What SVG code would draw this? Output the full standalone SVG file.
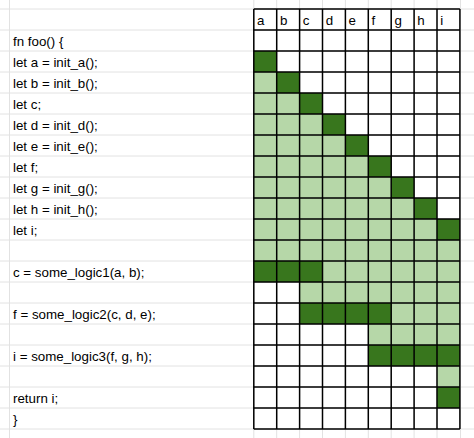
<svg xmlns="http://www.w3.org/2000/svg" width="474" height="438" viewBox="0 0 474 438">
<style>
.t{font-family:"Liberation Sans",Arial,sans-serif;font-size:13.33px;fill:#000}
.d{fill:#38761d}
.l{fill:#b6d7a8}
.g{stroke:#e2e2e2;stroke-width:1;fill:none}
.b{stroke:#000;stroke-width:1.5;fill:none}
</style>
<rect width="474" height="438" fill="#fff"/>
<g id="gridlines-sheet">
<path class="g" d="M0 9H474M0 30H474M0 51H474M0 72H474M0 93H474M0 114H474M0 135H474M0 156H474M0 177H474M0 198H474M0 219H474M0 240H474M0 261H474M0 282H474M0 303H474M0 324H474M0 345H474M0 366H474M0 387H474M0 408H474M0 429H474"/>
<path class="g" d="M9.5 0V438M253.8 0V438M276.7 0V438M299.6 0V438M322.5 0V438M345.4 0V438M368.3 0V438M391.2 0V438M414.1 0V438M437 0V438M460.5 0V438"/>
</g>
<g id="fills">
<rect class="l" x="253.8" y="72" width="22.9" height="21"/>
<rect class="l" x="253.8" y="93" width="45.8" height="21"/>
<rect class="l" x="253.8" y="114" width="68.7" height="21"/>
<rect class="l" x="253.8" y="135" width="91.6" height="21"/>
<rect class="l" x="253.8" y="156" width="114.5" height="21"/>
<rect class="l" x="253.8" y="177" width="137.4" height="21"/>
<rect class="l" x="253.8" y="198" width="160.3" height="21"/>
<rect class="l" x="253.8" y="219" width="183.2" height="21"/>
<rect class="l" x="253.8" y="240" width="206.1" height="21"/>
<rect class="l" x="322.5" y="261" width="137.4" height="21"/>
<rect class="l" x="299.6" y="282" width="160.3" height="21"/>
<rect class="l" x="391.2" y="303" width="68.7" height="21"/>
<rect class="l" x="368.3" y="324" width="91.6" height="21"/>
<rect class="l" x="437" y="366" width="22.9" height="21"/>
<rect class="d" x="253.8" y="51" width="22.9" height="21"/>
<rect class="d" x="276.7" y="72" width="22.9" height="21"/>
<rect class="d" x="299.6" y="93" width="22.9" height="21"/>
<rect class="d" x="322.5" y="114" width="22.9" height="21"/>
<rect class="d" x="345.4" y="135" width="22.9" height="21"/>
<rect class="d" x="368.3" y="156" width="22.9" height="21"/>
<rect class="d" x="391.2" y="177" width="22.9" height="21"/>
<rect class="d" x="414.1" y="198" width="22.9" height="21"/>
<rect class="d" x="437" y="219" width="22.9" height="21"/>
<rect class="d" x="253.8" y="261" width="68.7" height="21"/>
<rect class="d" x="299.6" y="303" width="91.6" height="21"/>
<rect class="d" x="368.3" y="345" width="91.6" height="21"/>
<rect class="d" x="437" y="387" width="22.9" height="21"/>
</g>
<g id="grid-borders">
<path class="b" d="M253.8 9H459.9M253.8 30H459.9M253.8 51H459.9M253.8 72H459.9M253.8 93H459.9M253.8 114H459.9M253.8 135H459.9M253.8 156H459.9M253.8 177H459.9M253.8 198H459.9M253.8 219H459.9M253.8 240H459.9M253.8 261H459.9M253.8 282H459.9M253.8 303H459.9M253.8 324H459.9M253.8 345H459.9M253.8 366H459.9M253.8 387H459.9M253.8 408H459.9M253.8 429H459.9"/>
<path class="b" d="M253.8 9V429M276.7 9V429M299.6 9V429M322.5 9V429M345.4 9V429M368.3 9V429M391.2 9V429M414.1 9V429M437 9V429M459.9 9V429"/>
</g>
<g id="headers">
<text class="t" x="257" y="25">a</text>
<text class="t" x="279.9" y="25">b</text>
<text class="t" x="302.8" y="25">c</text>
<text class="t" x="325.7" y="25">d</text>
<text class="t" x="348.6" y="25">e</text>
<text class="t" x="371.5" y="25">f</text>
<text class="t" x="394.4" y="25">g</text>
<text class="t" x="417.3" y="25">h</text>
<text class="t" x="440.2" y="25">i</text>
</g>
<g id="code">
<text class="t" x="13" y="46">fn foo() {</text>
<text class="t" x="13" y="67">let a = init_a();</text>
<text class="t" x="13" y="88">let b = init_b();</text>
<text class="t" x="13" y="109">let c;</text>
<text class="t" x="13" y="130">let d = init_d();</text>
<text class="t" x="13" y="151">let e = init_e();</text>
<text class="t" x="13" y="172">let f;</text>
<text class="t" x="13" y="193">let g = init_g();</text>
<text class="t" x="13" y="214">let h = init_h();</text>
<text class="t" x="13" y="235">let i;</text>
<text class="t" x="13" y="277">c = some_logic1(a, b);</text>
<text class="t" x="13" y="319">f = some_logic2(c, d, e);</text>
<text class="t" x="13" y="361">i = some_logic3(f, g, h);</text>
<text class="t" x="13" y="403">return i;</text>
<text class="t" x="13" y="424">}</text>
</g>
</svg>
